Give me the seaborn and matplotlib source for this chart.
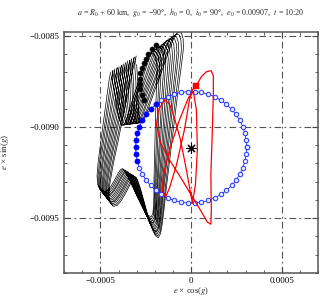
import numpy as np
import pandas as pd
import seaborn as sns
import matplotlib
matplotlib.use("Agg")
import matplotlib.pyplot as plt
from matplotlib.ticker import MultipleLocator, FuncFormatter

# all values below in units of 1e-4
U = 1e-4

# mean (averaged) eccentricity vector samples - blue circle
blue_x = [3.06, 3.04, 2.96, 2.85, 2.68, 2.48, 2.23, 1.95, 1.64, 1.30, 0.95, 0.57, 0.19,
          -0.19, -0.57, -0.95, -1.30, -1.64, -1.95, -2.23, -2.48, -2.68, -2.85, -2.96, -3.04,
          -3.06, -3.04, -2.96, -2.85, -2.68, -2.48, -2.23, -1.95, -1.64, -1.30, -0.95, -0.57,
          -0.19, 0.19, 0.57, 0.95, 1.30, 1.64, 1.95, 2.23, 2.48, 2.68, 2.85, 2.96, 3.04]
blue_y = [-91.12, -90.74, -90.36, -89.99, -89.65, -89.32, -89.03, -88.76, -88.54, -88.35,
          -88.21, -88.11, -88.07, -88.07, -88.11, -88.21, -88.35, -88.54, -88.76, -89.03,
          -89.32, -89.65, -89.99, -90.36, -90.74, -91.12, -91.50, -91.88, -92.25, -92.59,
          -92.92, -93.21, -93.48, -93.70, -93.89, -94.03, -94.13, -94.17, -94.17, -94.13,
          -94.03, -93.89, -93.70, -93.48, -93.21, -92.92, -92.59, -92.25, -91.88, -91.50]
blue_filled = list(range(18, 28))

# one orbit of the osculating e-vector (reference loop)
orbit_x = [-3.720, -3.830, -3.995, -4.215, -4.435, -4.654, -4.764, -4.764, -4.654, -4.489,
           -4.270, -4.050, -3.830, -3.610, -3.445, -3.335, -3.226, -3.061, -2.841, -2.621,
           -2.401, -2.236, -2.072, -1.907, -1.797, -1.742, -1.687, -1.632, -1.522, -1.412,
           -1.302, -1.192, -1.137, -1.192, -1.302, -1.467, -1.632, -1.797, -2.017, -2.291,
           -2.621, -2.896, -3.116, -3.281, -3.390, -3.500, -3.555, -3.665]
orbit_y = [-86.428, -86.978, -87.967, -89.341, -90.714, -92.088, -93.022, -93.572, -93.901,
           -94.066, -94.011, -93.737, -93.352, -92.912, -92.638, -92.583, -92.748, -93.132,
           -93.737, -94.341, -94.891, -95.275, -95.550, -95.660, -95.440, -95.000, -94.286,
           -93.187, -91.539, -89.890, -88.242, -86.868, -86.044, -85.549, -85.274, -85.219,
           -85.384, -85.769, -86.428, -87.307, -88.297, -89.176, -89.780, -89.835, -89.341,
           -88.516, -87.692, -86.868]
# drift of each successive orbit
top_shift = [-0.77, -0.63, -0.52, -0.37, -0.26, -0.12, 0.00, 0.13, 0.25, 0.39, 0.50, 0.65, 0.77]
bot_shift = [-0.30, -0.27, -0.23, -0.20, -0.17, -0.13, -0.10, -0.07, -0.03, 0.00, 0.03, 0.07, 0.10]
stretch = [0.86, 0.88, 0.90, 0.92, 0.93, 0.95, 0.97, 0.99, 1.01, 1.02, 1.04, 1.06, 1.08]

# once-per-orbit samples (black dots)
dot_x = [-1.91, -2.17, -2.35, -2.47, -2.60, -2.69, -2.79, -2.84, -2.84, -2.80, -2.71, -2.62]
dot_y = [-85.49, -85.73, -85.99, -86.28, -86.50, -86.77, -87.05, -87.38, -87.64, -87.93,
         -88.24, -88.52]

# current orbit (red)
red_x = [0.275, 0.566, 0.841, 1.099, 1.225, 1.225, 1.170, 1.088, 1.115, 1.088, 0.896, 0.511,
         0.016, -0.588, -1.192, -1.687, -1.907, -1.797, -1.467, -1.192, -0.918, -0.588,
         -0.258, 0.071, 0.236, 0.346, 0.291, 0.126, -0.148, -0.643, -1.192, -1.522, -1.577,
         -1.412, -1.192, -0.808, -0.368, -0.093, 0.071, 0.22]
red_y = [-87.75, -87.25, -86.98, -86.92, -87.20, -88.24, -90.16, -92.64, -94.56, -95.33,
         -95.22, -94.56, -93.74, -92.75, -91.81, -90.88, -89.89, -89.07, -88.52, -88.74,
         -89.51, -90.71, -92.36, -94.18, -93.19, -91.26, -89.07, -88.08, -88.41, -89.62,
         -91.26, -92.64, -93.46, -93.85, -93.35, -92.09, -90.16, -88.52, -87.97, -87.85]
start_pt = (0.275, -87.75)
centre_pt = (0.0, -91.15)

# build black trajectory: each orbit drifts right at the top, stretches vertically
bx, by = [], []
tx = np.array(orbit_x)
ty = np.array(orbit_y)
frac = (ty + 95.66) / 10.44
for k in range(len(stretch)):
    bx.extend(tx + bot_shift[k] + (top_shift[k] - bot_shift[k]) * frac)
    by.extend(-90.44 + (ty + 90.44) * stretch[k])
black = pd.DataFrame({"x": np.array(bx) * U, "y": np.array(by) * U})
red = pd.DataFrame({"x": np.array(red_x) * U, "y": np.array(red_y) * U})
blue = pd.DataFrame({"x": np.array(blue_x + blue_x[:1]) * U, "y": np.array(blue_y + blue_y[:1]) * U})
bfill = blue.iloc[blue_filled]

sns.set_style("ticks")
plt.rcParams["font.family"] = ["Liberation Serif", "DejaVu Serif"]
plt.rcParams["mathtext.fontset"] = "stix"

fig = plt.figure(figsize=(3.22, 2.96), dpi=100)
ax = fig.add_axes([0.199, 0.078, 0.789, 0.814])

sns.lineplot(data=black, x="x", y="y", sort=False, estimator=None, color="black", lw=0.5, ax=ax)
sns.lineplot(data=blue, x="x", y="y", sort=False, estimator=None, color="blue", lw=0.5, ax=ax)
sns.scatterplot(data=blue, x="x", y="y", marker="o", s=10, facecolor="#e8ecff",
                edgecolor="#3344ff", linewidth=0.8, ax=ax, zorder=3)
sns.lineplot(data=red, x="x", y="y", sort=False, estimator=None, color="red", lw=0.9, ax=ax, zorder=4)
sns.scatterplot(data=bfill, x="x", y="y", marker="o", s=14, color="blue", edgecolor="blue",
                linewidth=0.3, ax=ax, zorder=5)
sns.scatterplot(x=np.array(dot_x) * U, y=np.array(dot_y) * U, marker="o", s=14, color="black",
                edgecolor="black", linewidth=0.3, ax=ax, zorder=5)
sns.scatterplot(x=[start_pt[0] * U], y=[start_pt[1] * U], marker="s", s=16, color="red",
                edgecolor="red", ax=ax, zorder=6)
sns.scatterplot(x=[centre_pt[0] * U], y=[centre_pt[1] * U], marker=(8, 2, 0), s=45, color="black",
                edgecolor="black", linewidth=0.8, ax=ax, zorder=6)

ax.set_xlim(-0.0007, 0.0007)
ax.set_ylim(-0.0098, -0.00848)
ax.xaxis.set_major_locator(MultipleLocator(0.0005))
ax.yaxis.set_major_locator(MultipleLocator(0.0005))
ax.xaxis.set_minor_locator(MultipleLocator(0.0001))
ax.yaxis.set_minor_locator(MultipleLocator(0.0001))
fmt = FuncFormatter(lambda v, _: "0" if abs(v) < 1e-12 else f"{v:.4f}".replace("-", "\u2212"))
ax.xaxis.set_major_formatter(fmt)
ax.yaxis.set_major_formatter(fmt)
ax.tick_params(which="both", direction="in", top=True, right=True, colors="#444444",
               labelcolor="black", labelsize=6.5)
ax.tick_params(which="major", length=4, width=0.8)
ax.tick_params(which="minor", length=2, width=0.6)
ax.tick_params(axis="x", pad=3)
ax.grid(True, which="major", color="#555555", lw=0.8, ls=(0, (6, 3, 1.5, 3)))
for s in ax.spines.values():
    s.set_color("#555555")
    s.set_linewidth(1.1)

ax.set_xlabel(r"$e$ × cos($g$)", fontsize=6.2)
ax.set_ylabel(r"$e$ × sin($g$)", fontsize=6.5)
ax.xaxis.set_label_coords(0.5, -0.05)
ax.yaxis.set_label_coords(-0.21, 0.5)
ax.set_title(r"$a$ = $R_0$ + 60 km,  $g_0$ = −90°,  $h_0$ = 0,  $i_0$ = 90°,  $e_0$ = 0.00907,  $t$ = 10:20",
             fontsize=5.8, pad=12)

fig.savefig("out.png", dpi=100)
